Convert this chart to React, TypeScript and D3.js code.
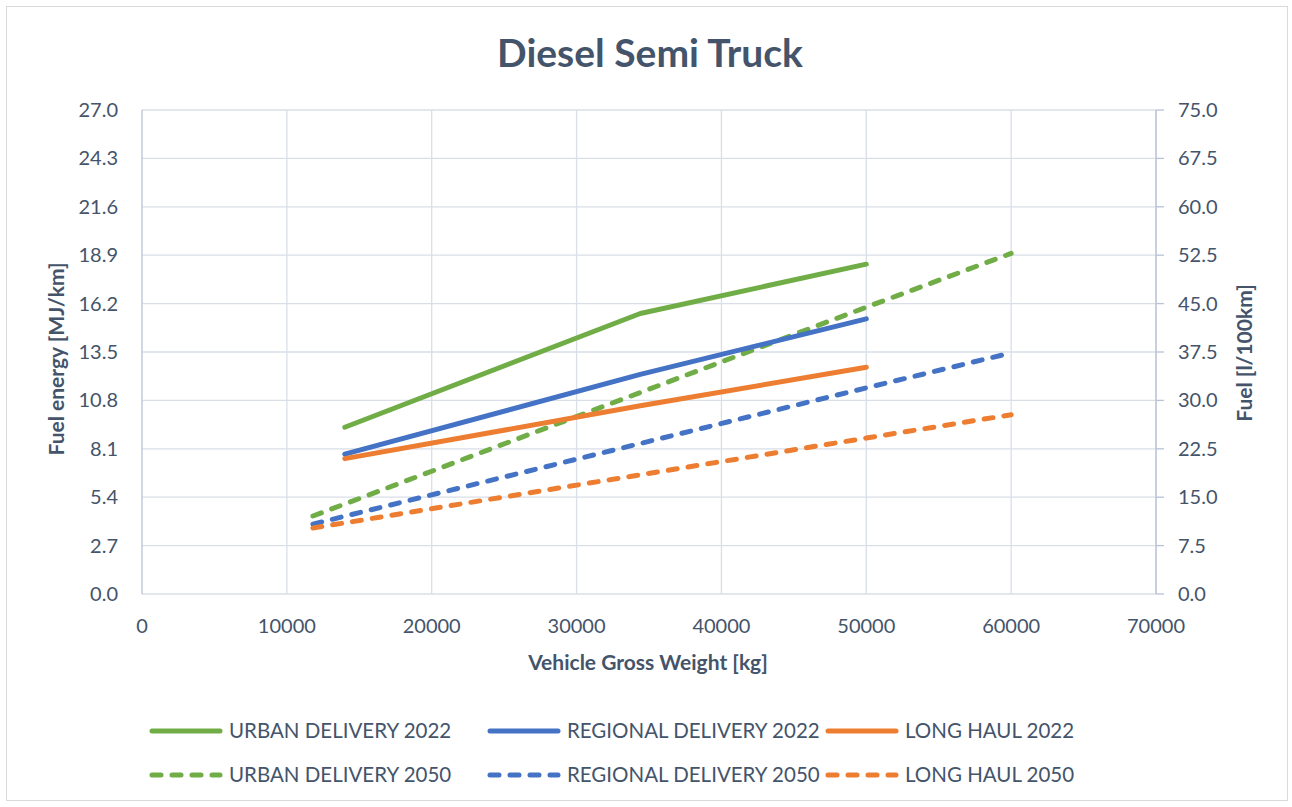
import React from "react";
import * as d3 from "d3";

const weights2022 = [14000, 34400, 50000];
const urban2022 = [9.3, 15.65, 18.4];
const regional2022 = [7.8, 12.25, 15.35];
const longHaul2022 = [7.55, 10.5, 12.65];

const weights2050 = [11800, 50000, 60000];
const urban2050 = [4.35, 16.0, 19.0];
const regional2050 = [3.9, 11.5, 13.45];
const longHaul2050 = [3.68, 8.7, 10.0];

const xTicks = [0, 10000, 20000, 30000, 40000, 50000, 60000, 70000];
const leftTicks = [0, 2.7, 5.4, 8.1, 10.8, 13.5, 16.2, 18.9, 21.6, 24.3, 27.0];
const rightTicks = [0, 7.5, 15, 22.5, 30, 37.5, 45, 52.5, 60, 67.5, 75];

const seriesNames = [
  "URBAN DELIVERY 2022",
  "REGIONAL DELIVERY 2022",
  "LONG HAUL 2022",
  "URBAN DELIVERY 2050",
  "REGIONAL DELIVERY 2050",
  "LONG HAUL 2050",
];
const seriesColors = ["#70ad47", "#4472c4", "#ed7d31", "#70ad47", "#4472c4", "#ed7d31"];

const FONT = "Lato, 'Open Sans', sans-serif";
const TXT = "#44546a";

export default function App() {
  const W = 1292, H = 807;
  const left = 142, right = 1156, top = 110, bottom = 594;
  const x = d3.scaleLinear().domain([0, 70000]).range([left, right]);
  const y = d3.scaleLinear().domain([0, 27]).range([bottom, top]);
  const y2 = d3.scaleLinear().domain([0, 75]).range([bottom, top]);
  const line = d3.line<[number, number]>().x(d => x(d[0])).y(d => y(d[1]));

  const series = [
    { xs: weights2022, ys: urban2022, dashed: false },
    { xs: weights2022, ys: regional2022, dashed: false },
    { xs: weights2022, ys: longHaul2022, dashed: false },
    { xs: weights2050, ys: urban2050, dashed: true },
    { xs: weights2050, ys: regional2050, dashed: true },
    { xs: weights2050, ys: longHaul2050, dashed: true },
  ].map((s, i) => ({ ...s, name: seriesNames[i], color: seriesColors[i] }));

  const drawOrder = [3, 4, 5, 0, 1, 2];
  const legendCols = [152, 490, 828];
  const legendRows = [731, 775];

  return (
    <svg width={W} height={H} style={{ position: "absolute", left: 0, top: 0, background: "#fff" }}>
      <rect x={6.5} y={6.5} width={1281} height={794} fill="#fff" stroke="#d9d9d9" strokeWidth={1} />
      <text x={650} y={67} textAnchor="middle" fontFamily={FONT} fontWeight={700} fontSize={39} fill={TXT}>
        Diesel Semi Truck
      </text>
      {leftTicks.map(t => (
        <line key={"h" + t} x1={left} x2={right} y1={y(t)} y2={y(t)} stroke="#d9dee7" strokeWidth={1.3} />
      ))}
      {xTicks.slice(1).map(t => (
        <line key={"v" + t} x1={x(t)} x2={x(t)} y1={top} y2={bottom} stroke="#d9dee7" strokeWidth={1.3} />
      ))}
      <line x1={left} x2={left} y1={top} y2={bottom} stroke="#b8c2d4" strokeWidth={1.3} />
      <line x1={right} x2={right} y1={top} y2={bottom} stroke="#b8c2d4" strokeWidth={1.3} />
      {rightTicks.map(t => (
        <line key={"rt" + t} x1={right} x2={right + 8} y1={y2(t)} y2={y2(t)} stroke="#b8c2d4" strokeWidth={1.3} />
      ))}
      {leftTicks.map(t => (
        <text key={"lt" + t} x={118} y={y(t)} dy="0.35em" textAnchor="end" fontFamily={FONT} fontSize={20} fill={TXT}>
          {t.toFixed(1)}
        </text>
      ))}
      {rightTicks.map(t => (
        <text key={"rl" + t} x={1178} y={y2(t)} dy="0.35em" textAnchor="start" fontFamily={FONT} fontSize={20} fill={TXT}>
          {t.toFixed(1)}
        </text>
      ))}
      {xTicks.map(t => (
        <text key={"xt" + t} x={x(t)} y={626} dy="0.35em" textAnchor="middle" fontFamily={FONT} fontSize={20} fill={TXT}>
          {t}
        </text>
      ))}
      <text x={648} y={663} dy="0.35em" textAnchor="middle" fontFamily={FONT} fontWeight={700} fontSize={21} fill={TXT}>
        Vehicle Gross Weight [kg]
      </text>
      <text transform="translate(57,359) rotate(-90)" dy="0.35em" textAnchor="middle" fontFamily={FONT} fontWeight={700} fontSize={21} fill={TXT}>
        Fuel energy [MJ/km]
      </text>
      <text transform="translate(1245,353) rotate(-90)" dy="0.35em" textAnchor="middle" fontFamily={FONT} fontWeight={700} fontSize={21} fill={TXT}>
        Fuel [l/100km]
      </text>
      {drawOrder.map(i => {
        const s = series[i];
        const pts = s.xs.map((v, k) => [v, s.ys[k]] as [number, number]);
        return (
          <path key={"s" + i} d={line(pts) || ""} fill="none" stroke={s.color} strokeWidth={5}
            strokeLinecap="round" strokeLinejoin="round" strokeDasharray={s.dashed ? "9 11" : undefined} />
        );
      })}
      {series.map((s, i) => {
        const cx = legendCols[i % 3];
        const cy = legendRows[Math.floor(i / 3)];
        return (
          <g key={"lg" + i}>
            <line x1={cx} x2={cx + 68} y1={cy} y2={cy} stroke={s.color} strokeWidth={5} strokeLinecap="round"
              strokeDasharray={s.dashed ? "9 11" : undefined} />
            <text x={cx + 77} y={cy} dy="0.35em" fontFamily={FONT} fontSize={20.5} fill={TXT}>{s.name}</text>
          </g>
        );
      })}
    </svg>
  );
}
